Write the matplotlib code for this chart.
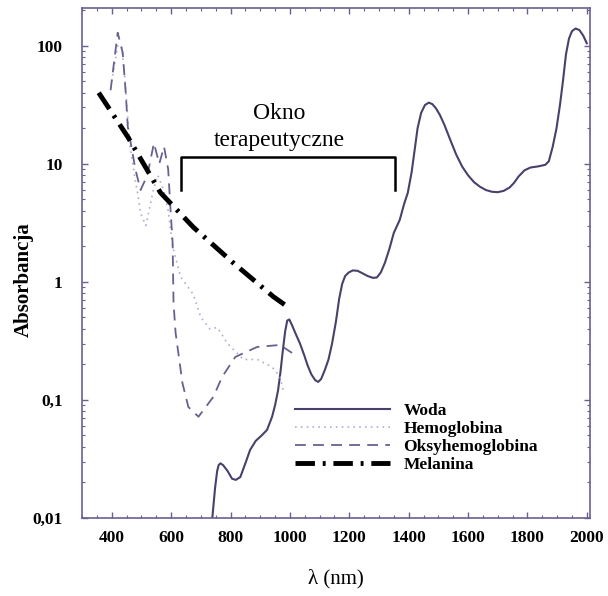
import numpy as np
import matplotlib
matplotlib.use("Agg")
import matplotlib.pyplot as plt
from matplotlib.ticker import FixedLocator, MultipleLocator, LogLocator, NullFormatter

# water (Woda)
water_nm = [700, 739, 748, 755, 760, 766, 775, 790, 805, 818, 833, 850, 866, 885, 905, 923, 940,
            950, 960, 968, 976, 984, 991, 998, 1007, 1020, 1034, 1048, 1060, 1072, 1085, 1095,
            1105, 1118, 1130, 1142, 1155, 1166, 1176, 1186, 1198, 1212, 1228, 1245, 1262, 1280,
            1293, 1306, 1320, 1335, 1350, 1370, 1385, 1397, 1410, 1420, 1430, 1442, 1455, 1468,
            1480, 1492, 1505, 1520, 1540, 1560, 1580, 1600, 1620, 1640, 1660, 1680, 1700, 1720,
            1740, 1755, 1770, 1790, 1810, 1835, 1860, 1872, 1885, 1898, 1910, 1920, 1930, 1940,
            1950, 1962, 1975, 1988, 2000]
water_abs = [0.006, 0.0102, 0.018, 0.025, 0.028, 0.029, 0.028, 0.025, 0.0215, 0.021, 0.0222, 0.029,
             0.0377, 0.045, 0.05, 0.0557, 0.072, 0.09, 0.12, 0.17, 0.26, 0.38, 0.47, 0.48, 0.43,
             0.36, 0.30, 0.24, 0.195, 0.165, 0.147, 0.142, 0.15, 0.18, 0.22, 0.30, 0.46, 0.72,
             0.96, 1.12, 1.2, 1.25, 1.24, 1.18, 1.12, 1.08, 1.09, 1.2, 1.45, 1.9, 2.6, 3.35, 4.6,
             5.67, 8.5, 13, 20, 27, 31.5, 33, 32, 29.5, 26, 21.5, 16, 12, 9.5, 8.0, 7.0, 6.4, 6.0,
             5.8, 5.75, 5.9, 6.3, 6.9, 7.8, 8.8, 9.3, 9.5, 9.8, 10.5, 13.9, 20, 32, 51, 85, 115,
             133, 140, 136, 122, 105]

# hemoglobin (Hemoglobina)
hb_nm = [400, 420, 433, 445, 460, 480, 487, 497, 515, 540, 555, 575, 590, 605, 632, 675, 700,
         730, 756, 790, 843, 890, 940, 967, 977]
hb_abs = [50, 100, 100, 50, 15, 7, 5.7, 3.8, 3, 6, 8, 6, 4, 2, 1.1, 0.78, 0.5, 0.4, 0.41, 0.3,
          0.22, 0.22, 0.19, 0.157, 0.12]

# oxyhemoglobin (Oksyhemoglobina)
oxy_nm = [396, 420, 437, 447, 454, 480, 497, 520, 542, 560, 576, 590, 598, 605, 608, 615, 638,
          658, 692, 742, 772, 816, 890, 967, 1007]
oxy_abs = [42, 129, 87, 40, 20.6, 8.9, 6.0, 8, 15, 10, 14, 9, 4.07, 2.14, 0.66, 0.37, 0.139,
           0.087, 0.072, 0.106, 0.157, 0.231, 0.281, 0.292, 0.25]

# melanin (Melanina)
mel_nm = [356, 454, 564, 675, 809, 944, 994]
mel_abs = [40, 16.9, 5.7, 2.9, 1.45, 0.75, 0.61]

x_ticks = [400, 600, 800, 1000, 1200, 1400, 1600, 1800, 2000]
y_ticks = [0.01, 0.1, 1, 10, 100]
y_labels = ['0,01', '0,1', '1', '10', '100']

window = (632, 1353)  # therapeutic window bracket

frame = '#6b5f8f'
serif = ['Liberation Serif', 'DejaVu Serif']
plt.rcParams['font.family'] = serif

fig = plt.figure(figsize=(6.08, 5.96), dpi=100)
ax = fig.add_axes([0.135, 0.131, 0.835, 0.856])

ax.plot(water_nm, water_abs, color='#4b3f6b', lw=1.5, label='Woda')
ax.plot(hb_nm, hb_abs, color='#b4acd0', lw=1.2, ls=(0, (1, 2.5)), label='Hemoglobina')
ax.plot(oxy_nm, oxy_abs, color='#6a6090', lw=1.3, ls=(0, (6, 4)), label='Oksyhemoglobina')
ax.plot(mel_nm, mel_abs, color='black', lw=3.5, ls=(0, (4, 1.6, 0.6, 1.6)), label='Melanina')

# therapeutic window bracket
ax.plot([window[0], window[0], window[1], window[1]], [6.0, 11.5, 11.5, 6.0], color='black', lw=1.8)
ax.text(965, 26.5, 'Okno', ha='center', va='center', fontsize=17)
ax.text(965, 15.8, 'terapeutyczne', ha='center', va='center', fontsize=17)

ax.set_yscale('log')
ax.set_xlim(300, 2010)
ax.set_ylim(0.01, 210)

ax.xaxis.set_major_locator(FixedLocator(x_ticks))
ax.xaxis.set_minor_locator(MultipleLocator(50))
ax.set_xticklabels([str(t) for t in x_ticks], fontweight='bold', fontsize=12.5)
ax.yaxis.set_major_locator(FixedLocator(y_ticks))
ax.yaxis.set_minor_locator(LogLocator(base=10, subs=np.arange(2, 10)))
ax.yaxis.set_minor_formatter(NullFormatter())
ax.set_yticklabels(y_labels, fontweight='bold', fontsize=12.5)

ax.tick_params(which='both', direction='in', top=True, right=True, color=frame)
ax.tick_params(which='major', length=4, width=1, pad=9)
ax.tick_params(which='minor', length=2.5, width=0.8)
ax.tick_params(axis='y', which='major', pad=14)

for s in ax.spines.values():
    s.set_color(frame)
    s.set_linewidth(1.2)

ax.set_xlabel('λ (nm)', fontsize=15, labelpad=16)
ax.set_ylabel('Absorbancja', fontsize=15, fontweight='bold')
ax.yaxis.set_label_coords(-0.095, 0.467)

leg = ax.legend(loc='center left', bbox_to_anchor=(0.419, 0.157), frameon=False,
                prop={'family': serif, 'weight': 'bold', 'size': 12.5},
                handlelength=5.5, handletextpad=0.75, labelspacing=0.1,
                borderpad=0, borderaxespad=0)

fig.savefig('out.png', dpi=100)
